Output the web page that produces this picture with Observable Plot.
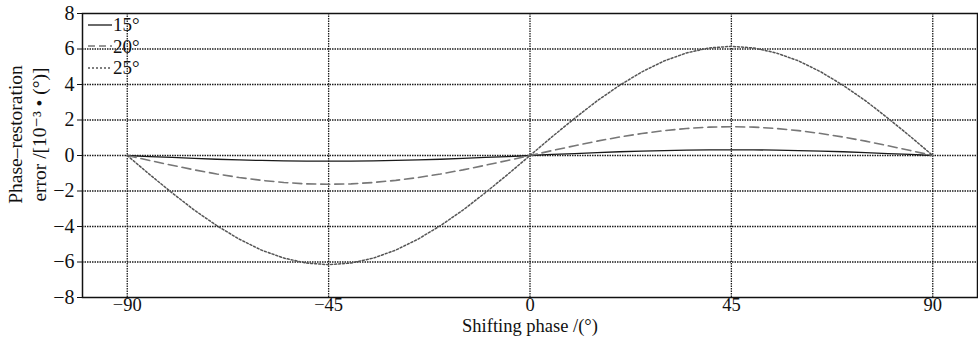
<!DOCTYPE html>
<html><head><meta charset="utf-8">
<script src="https://cdn.jsdelivr.net/npm/d3@7"></script>
<script src="https://cdn.jsdelivr.net/npm/@observablehq/plot@0.6"></script>
<style>
body{margin:0;background:#fff;}
#wrap{position:relative;width:978px;height:341px;font-family:"Liberation Serif","DejaVu Serif",serif;}
#legend{position:absolute;left:88px;top:14px;font-size:19px;line-height:21.5px;color:#111;}
#legend div{display:flex;align-items:center;height:21.5px;}
#legend svg{margin-right:1px;}
</style></head><body>
<div id="wrap"><div id="legend"></div></div>
<script>
const phases = [-90,-85,-80,-75,-70,-65,-60,-55,-50,-45,-40,-35,-30,-25,-20,-15,-10,-5,0,5,10,15,20,25,30,35,40,45,50,55,60,65,70,75,80,85,90];
const err15 = [0,-0.06,-0.11,-0.16,-0.21,-0.25,-0.28,-0.30,-0.32,-0.32,-0.32,-0.30,-0.28,-0.25,-0.21,-0.16,-0.11,-0.06,0,0.06,0.11,0.16,0.21,0.25,0.28,0.30,0.32,0.32,0.32,0.30,0.28,0.25,0.21,0.16,0.11,0.06,0];
const err20 = [0,-0.28,-0.55,-0.81,-1.04,-1.24,-1.40,-1.52,-1.60,-1.62,-1.60,-1.52,-1.40,-1.24,-1.04,-0.81,-0.55,-0.28,0,0.28,0.55,0.81,1.04,1.24,1.40,1.52,1.60,1.62,1.60,1.52,1.40,1.24,1.04,0.81,0.55,0.28,0];
const err25 = [0,-1.07,-2.10,-3.08,-3.95,-4.71,-5.33,-5.78,-6.06,-6.15,-6.06,-5.78,-5.33,-4.71,-3.95,-3.08,-2.10,-1.07,0,1.07,2.10,3.08,3.95,4.71,5.33,5.78,6.06,6.15,6.06,5.78,5.33,4.71,3.95,3.08,2.10,1.07,0];
const seriesNames = ["15°","20°","25°"];
const xTicks = [-90,-45,0,45,90];
const yTicks = [-8,-6,-4,-2,0,2,4,6,8];
const yGrid = [-6,-4,-2,0,2,4,6];
const styles = {
  "15°": {stroke:"#1a1a1a", dash:null, width:1.3},
  "20°": {stroke:"#777", dash:"9,5", width:1.6},
  "25°": {stroke:"#555", dash:"2,2", width:1.5}
};
const allSeries = [err15, err20, err25];
const data = [];
seriesNames.forEach((name,i)=>phases.forEach((p,j)=>data.push({phase:p, err:allSeries[i][j], series:name})));
const fmt = d=>d<0?"−"+(-d):String(d);

const marks = [
  Plot.gridX(xTicks, {stroke:"#111", strokeOpacity:0.95, strokeDasharray:"1.5,1", strokeWidth:1.3}),
  Plot.gridY(yGrid, {stroke:"#111", strokeOpacity:0.95, strokeDasharray:"1.5,1", strokeWidth:1.3}),
  Plot.frame({stroke:"#111", strokeWidth:1.5}),
  Plot.axisY({ticks:yTicks, tickSize:5, tickPadding:3, fontSize:20, label:null, tickFormat:fmt}),
  Plot.axisX({ticks:xTicks, tickSize:0, tickPadding:0, fontSize:18.5, label:null, tickFormat:fmt}),
  Plot.text(["Shifting phase /(°)"], {frameAnchor:"bottom", dy:34, fontSize:18.5}),
  Plot.text(["Phase–restoration\nerror /[10⁻³ • (°)]"], {frameAnchor:"left", dx:-56, dy:-21, rotate:-90, textAnchor:"middle", fontSize:19.5, lineHeight:1.2})
];
seriesNames.forEach(name=>{
  const s = styles[name];
  marks.push(Plot.line(data.filter(d=>d.series===name), {x:"phase", y:"err", stroke:s.stroke, strokeWidth:s.width, strokeDasharray:s.dash}));
});

const chart = Plot.plot({
  width:978, height:341,
  marginLeft:82, marginRight:1, marginTop:13, marginBottom:44,
  x:{domain:[-100,100]},
  y:{domain:[-8,8]},
  style:{fontFamily:"Liberation Serif, DejaVu Serif, serif", color:"#111", background:"#fff"},
  marks
});
document.getElementById("wrap").prepend(chart);

const leg = document.getElementById("legend");
seriesNames.forEach(name=>{
  const s = styles[name];
  const row = document.createElement("div");
  row.innerHTML = `<svg width="24" height="10"><line x1="0" y1="5" x2="24" y2="5" stroke="${s.stroke}" stroke-width="${s.width}" ${s.dash?`stroke-dasharray="${s.dash==="9,5"?"7,4":s.dash}"`:""}/></svg><span>${name}</span>`;
  leg.appendChild(row);
});
</script>
</body></html>
